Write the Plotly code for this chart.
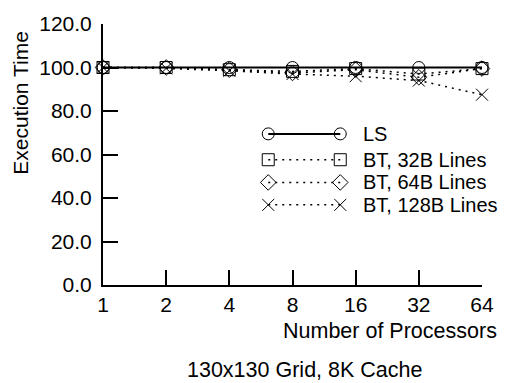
import plotly.graph_objects as go

processors = [1, 2, 4, 8, 16, 32, 64]
tick_labels = ["1", "2", "4", "8", "16", "32", "64"]
ls = [100, 100, 100, 100, 100, 100, 100]
bt32 = [100, 100, 99.0, 98.2, 99.5, 97.0, 99.5]
bt64 = [100, 100, 99.0, 97.5, 99.0, 95.5, 99.5]
bt128 = [100, 99.6, 98.5, 97.0, 96.0, 94.0, 87.5]
y_ticks = [0, 20, 40, 60, 80, 100, 120]

names = ["LS", "BT, 32B Lines", "BT, 64B Lines", "BT, 128B Lines"]
series = [ls, bt32, bt64, bt128]
symbols = ["circle-open", "square-open", "diamond-open", "x-thin-open"]
dashes = ["solid", "2px,5px", "2px,5px", "2px,5px"]
widths = [2, 1.5, 1.5, 1.5]

FONT = "Arial, Liberation Sans, sans-serif"
fig = go.Figure()

for vals, sym, dash, w in zip(series, symbols, dashes, widths):
    fig.add_trace(go.Scatter(
        x=processors, y=vals, mode="lines+markers", showlegend=False,
        line=dict(color="black", width=w, dash=dash),
        marker=dict(symbol=sym, size=12, color="black", line=dict(color="black", width=1)),
        cliponaxis=False,
    ))

# custom legend (line segment with a marker on each end)
leg_x = [0.436, 0.626]
leg_y = [0.579, 0.480, 0.393, 0.307]
for name, sym, dash, w, ly in zip(names, symbols, dashes, widths, leg_y):
    fig.add_trace(go.Scatter(
        x=leg_x, y=[ly, ly], xaxis="x2", yaxis="y2", mode="lines+markers",
        showlegend=False, hoverinfo="skip",
        line=dict(color="black", width=w, dash=dash),
        marker=dict(symbol=sym, size=12, color="black", line=dict(color="black", width=1)),
        cliponaxis=False,
    ))
    fig.add_annotation(x=0.682, y=ly, xref="x2", yref="y2", text=name,
                       showarrow=False, xanchor="left", yanchor="middle",
                       font=dict(family=FONT, size=20, color="black"))

fig.update_layout(
    width=506, height=383,
    margin=dict(l=103, r=13, t=18, b=98),
    paper_bgcolor="white", plot_bgcolor="white",
    font=dict(family=FONT, size=21, color="black"),
    xaxis=dict(type="log", range=[0, 1.80618], tickvals=processors, ticktext=tick_labels,
               showgrid=False, zeroline=False, showline=True, linecolor="black", linewidth=2,
               ticks="inside", ticklen=15, tickwidth=1.5, tickcolor="black",
               tickfont=dict(family=FONT, size=21)),
    yaxis=dict(range=[0, 120], tickvals=y_ticks, ticktext=[f"{v:.1f}" for v in y_ticks],
               showgrid=False, zeroline=False, showline=True, linecolor="black", linewidth=2,
               ticks="inside", ticklen=15, tickwidth=1.5, tickcolor="black",
               ticklabelstandoff=5,
               tickfont=dict(family=FONT, size=21)),
    xaxis2=dict(overlaying="x", range=[0, 1], visible=False, domain=[0, 1]),
    yaxis2=dict(overlaying="y", range=[0, 1], visible=False),
)

fig.add_annotation(x=1.0, y=-0.176, xref="paper", yref="paper", text="Number of Processors",
                   showarrow=False, xanchor="right", yanchor="middle", xshift=17,
                   font=dict(family=FONT, size=21.5))
fig.add_annotation(x=0.5, y=-0.325, xref="paper", yref="paper", text="130x130 Grid, 8K Cache",
                   showarrow=False, xanchor="center", yanchor="middle", xshift=12,
                   font=dict(family=FONT, size=21.5))
fig.add_annotation(x=-0.218, y=0.70, xref="paper", yref="paper", text="Execution Time",
                   showarrow=False, textangle=-90, xanchor="center", yanchor="middle",
                   font=dict(family=FONT, size=21, color="black"))

fig.write_html("out.html")
